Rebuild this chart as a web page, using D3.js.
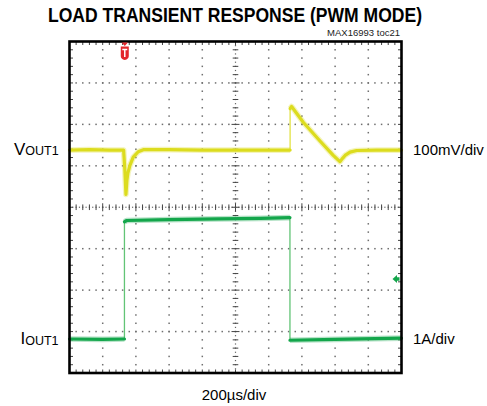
<!DOCTYPE html>
<html><head><meta charset="utf-8">
<script src="https://cdn.jsdelivr.net/npm/d3@7"></script>
<style>html,body{margin:0;padding:0;background:#fff;}svg{display:block;}</style>
</head><body>
<script>
// ---- data ----
const timeDomain = [0, 2000];          // µs, 200 µs/div, 10 divisions
const divDomain = [-4, 4];             // vertical divisions
const voltsPerDiv = 100;               // mV/div
const ampsPerDiv = 1;                  // A/div
const vOffsetDiv = 1.38;               // channel 1 reference level (div)
const iOffsetDiv = -3.28;              // channel 2 zero level (div)
// VOUT1 deviation, [time µs, mV]
const voutTrace = [
  [0, 0], [120, 1], [240, 0], [326, 0], [333, -45], [340, -107], [346, -72],
  [352, -55], [364, -37], [384, -17], [414, -4], [445, 1], [600, 1], [800, 0],
  [1000, 0], [1200, 0], [1329, 0], [1329, 100], [1338, 105], [1408, 67],
  [1509, 22], [1589, -13], [1629, -28], [1645, -20], [1660, -13], [1690, -5],
  [1730, -1], [1850, 0], [2000, 0]
];
// IOUT1, [time µs, A]
const ioutTrace = [
  [0, 0.1], [200, 0.09], [331, 0.1], [331, 2.93], [345, 2.96], [600, 2.98],
  [900, 3.0], [1150, 3.01], [1328, 3.03], [1328, 0.07], [1600, 0.09], [2000, 0.12]
];
const titleText = "LOAD TRANSIENT RESPONSE (PWM MODE)";
const noteText = "MAX16993 toc21";
const timeLabel = "200µs/div";
const vScaleLabel = "100mV/div";
const iScaleLabel = "1A/div";

// ---- drawing ----
const W = 487, H = 406;
const svg = d3.select("body").append("svg").attr("width", W).attr("height", H);
const L = 69.5, R = 401.5, T = 41.5, B = 373;
const x = d3.scaleLinear().domain(timeDomain).range([L, R]);
const y = d3.scaleLinear().domain(divDomain).range([B, T]);
const majT = d3.range(timeDomain[0], timeDomain[1] + 1, 200);
const minT = d3.range(timeDomain[0], timeDomain[1] + 1, 40);
const majV = d3.range(divDomain[0], divDomain[1] + 0.01, 1);
const minV = d3.range(0, 41).map(i => divDomain[0] + i * 0.2);

const grid = svg.append("g");
const dotC = "#6f6f6f";
// dotted grid
majT.slice(1, -1).forEach(t => {
  if (t === 1000) return;
  minV.slice(1, -1).forEach(v => grid.append("rect")
    .attr("x", x(t) - 0.75).attr("y", y(v) - 0.75).attr("width", 1.5).attr("height", 1.5).attr("fill", dotC));
});
majV.slice(1, -1).forEach(v => {
  if (v === 0) return;
  minT.slice(1, -1).forEach(t => grid.append("rect")
    .attr("x", x(t) - 0.75).attr("y", y(v) - 0.75).attr("width", 1.5).attr("height", 1.5).attr("fill", dotC));
});
// center axes with ticks
const cx = x(1000), cy = y(0);
d3.range(0, 81).map(i => divDomain[0] + i * 0.1).forEach(v => grid.append("rect")
  .attr("x", cx - 0.6).attr("y", y(v) - 0.6).attr("width", 1.2).attr("height", 1.2).attr("fill", "#666"));
d3.range(0, 101).map(i => i * 20).forEach(t => grid.append("rect")
  .attr("x", x(t) - 0.6).attr("y", cy - 0.6).attr("width", 1.2).attr("height", 1.2).attr("fill", "#666"));
minV.forEach((v, i) => {
  const len = (i % 5 === 0) ? 4 : 2.8;
  grid.append("line").attr("x1", cx - len).attr("x2", cx + len).attr("y1", y(v)).attr("y2", y(v))
    .attr("stroke", "#444").attr("stroke-width", 1);
});
minT.forEach((t, i) => {
  const len = (i % 5 === 0) ? 4 : 2.8;
  grid.append("line").attr("x1", x(t)).attr("x2", x(t)).attr("y1", cy - len).attr("y2", cy + len)
    .attr("stroke", "#444").attr("stroke-width", 1);
});
// border ticks
minT.forEach(t => {
  grid.append("line").attr("x1", x(t)).attr("x2", x(t)).attr("y1", T).attr("y2", T + 3.5).attr("stroke", "#444");
  grid.append("line").attr("x1", x(t)).attr("x2", x(t)).attr("y1", B).attr("y2", B - 3.5).attr("stroke", "#444");
});
minV.forEach(v => {
  grid.append("line").attr("x1", L).attr("x2", L + 3.5).attr("y1", y(v)).attr("y2", y(v)).attr("stroke", "#444");
  grid.append("line").attr("x1", R).attr("x2", R - 3.5).attr("y1", y(v)).attr("y2", y(v)).attr("stroke", "#444");
});

// traces
function splitRuns(pts) {
  const runs = []; let cur = [pts[0]];
  for (let i = 1; i < pts.length; i++) {
    if (pts[i][0] === pts[i - 1][0]) { runs.push(cur); cur = [pts[i]]; }
    else cur.push(pts[i]);
  }
  runs.push(cur); return runs;
}
function drawTrace(data, toDiv, color, thinColor, w) {
  const pts = data.map(d => [d[0], toDiv(d[1])]);
  const line = d3.line().x(d => x(d[0])).y(d => y(d[1]));
  svg.append("path").attr("d", line(pts)).attr("fill", "none").attr("stroke", thinColor)
    .attr("stroke-width", 1.3);
  splitRuns(pts).forEach(run => {
    svg.append("path").attr("d", line(run)).attr("fill", "none").attr("stroke", color)
      .attr("stroke-width", w + 2.5).attr("stroke-opacity", 0.3).attr("stroke-linejoin", "round");
    svg.append("path").attr("d", line(run)).attr("fill", "none").attr("stroke", color)
      .attr("stroke-width", w).attr("stroke-linejoin", "round").attr("stroke-linecap", "round");
  });
}
drawTrace(ioutTrace, a => iOffsetDiv + a / ampsPerDiv, "#13a64b", "#62c476", 3.2);
drawTrace(voutTrace, mv => vOffsetDiv + mv / voltsPerDiv, "#dcdc1e", "#e2e244", 3.2);

// frame
svg.append("rect").attr("x", L).attr("y", T).attr("width", R - L).attr("height", B - T)
  .attr("fill", "none").attr("stroke", "#000").attr("stroke-width", 2.6);

// trigger marker (red T at trigger time)
const tx = x(333);
svg.append("path").attr("d", `M${tx - 3.2},${T + 1} L${tx + 3.2},${T + 1} L${tx},${T + 4.5} Z`).attr("fill", "#e3262b");
svg.append("path").attr("d", `M${tx - 4},${T + 5} L${tx + 4},${T + 5} L${tx + 4},${T + 14.5} Q${tx + 4},${T + 17.5} ${tx},${T + 18.5} Q${tx - 4},${T + 17.5} ${tx - 4},${T + 14.5} Z`)
  .attr("fill", "#e3262b");
svg.append("path").attr("d", `M${tx - 2.5},${T + 8} L${tx + 2.5},${T + 8} M${tx},${T + 8} L${tx},${T + 15.5}`)
  .attr("stroke", "#fff").attr("stroke-width", 1.5).attr("fill", "none");
// trigger level marker (green, right edge)
const ly = y(iOffsetDiv + 1.55);
svg.append("path").attr("d", `M${R - 9},${ly} L${R - 4.5},${ly - 4} L${R - 4.5},${ly - 1.8} L${R - 2},${ly - 1.8} L${R - 2},${ly + 1.8} L${R - 4.5},${ly + 1.8} L${R - 4.5},${ly + 4} Z`)
  .attr("fill", "#13a64b");

// texts
const font = "'Liberation Sans', Arial, Helvetica, sans-serif";
svg.append("text").attr("x", 48).attr("y", 22).attr("font-family", font).attr("font-weight", "bold")
  .attr("font-size", 19.5).attr("textLength", 374).attr("lengthAdjust", "spacingAndGlyphs").text(titleText);
svg.append("text").attr("x", 400).attr("y", 36).attr("text-anchor", "end").attr("font-family", font)
  .attr("font-size", 9.5).attr("fill", "#222").text(noteText);
svg.append("text").attr("x", 234).attr("y", 400).attr("text-anchor", "middle").attr("font-family", font)
  .attr("font-size", 15).text(timeLabel);
svg.append("text").attr("x", 413).attr("y", 155).attr("font-family", font).attr("font-size", 15).text(vScaleLabel);
svg.append("text").attr("x", 413).attr("y", 344).attr("font-family", font).attr("font-size", 15).text(iScaleLabel);
const vl = svg.append("text").attr("x", 14).attr("y", 154.5).attr("font-family", font);
vl.append("tspan").attr("font-size", 17).text("V");
vl.append("tspan").attr("font-size", 12.5).text("OUT1");
const il = svg.append("text").attr("x", 20.5).attr("y", 343.5).attr("font-family", font);
il.append("tspan").attr("font-size", 17).text("I");
il.append("tspan").attr("font-size", 12.5).attr("dy", 1).text("OUT1");
</script>
</body></html>
